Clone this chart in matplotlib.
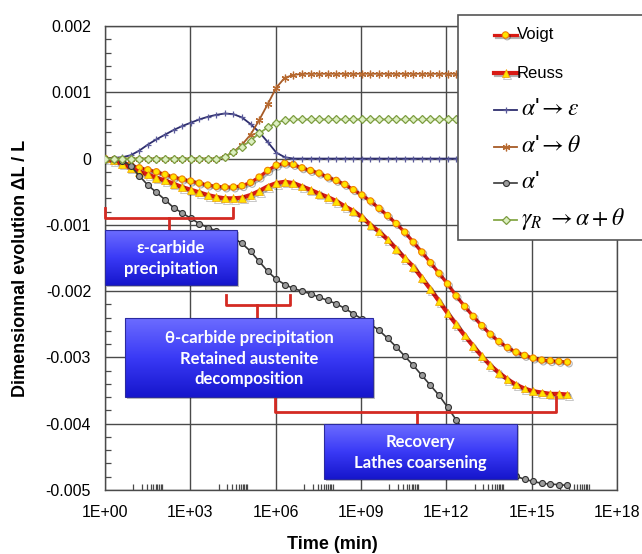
import numpy as np
import matplotlib
matplotlib.use('Agg')
import matplotlib.pyplot as plt
import matplotlib.ticker as tck
import matplotlib.patheffects as pe
from matplotlib.patches import Rectangle
from matplotlib.colors import LinearSegmentedColormap

plt.rcParams['font.family'] = ['Liberation Sans', 'DejaVu Sans']
plt.rcParams['mathtext.fontset'] = 'stix'

# time steps in minutes, doubling from 1 min (2^0 .. 2^54)
time = 2.0 ** np.arange(55)

voigt = [0, -0.00002, -0.00005, -0.0001, -0.00014, -0.00017, -0.0002, -0.00024, -0.00028, -0.00031,
         -0.00034, -0.00037, -0.0004, -0.00042, -0.00043, -0.00043, -0.00041, -0.00036, -0.00028, -0.00018,
         -0.0001, -0.00007, -0.00009, -0.00014, -0.00018, -0.00022, -0.00028, -0.00033, -0.00039, -0.00047,
         -0.00055, -0.00064, -0.00075, -0.00086, -0.00098, -0.00111, -0.00126, -0.00141, -0.00157, -0.00173,
         -0.00189, -0.00207, -0.00223, -0.00238, -0.00252, -0.00265, -0.00276, -0.00285, -0.00292, -0.00297,
         -0.00301, -0.00304, -0.00305, -0.00306, -0.00307]

reuss = [0, -0.00003, -0.00008, -0.00014, -0.0002, -0.00024, -0.00029, -0.00033, -0.00038, -0.00043,
         -0.00047, -0.00051, -0.00055, -0.00058, -0.0006, -0.0006, -0.00059, -0.00055, -0.00049, -0.00042,
         -0.00037, -0.00035, -0.00037, -0.00042, -0.00047, -0.00053, -0.00058, -0.00064, -0.00072, -0.00079,
         -0.00088, -0.001, -0.0011, -0.00122, -0.00136, -0.0015, -0.00163, -0.0018, -0.00197, -0.00215,
         -0.00233, -0.0025, -0.00267, -0.00283, -0.00298, -0.00312, -0.00323, -0.00333, -0.00341, -0.00347,
         -0.00351, -0.00353, -0.00355, -0.00355, -0.00356]

eps = [0, 0.00001, 0.00002, 0.00005, 0.00012, 0.00021, 0.00029, 0.00036, 0.00043, 0.00049,
       0.00054, 0.00059, 0.00063, 0.00066, 0.00068, 0.00067, 0.00062, 0.00052, 0.0004, 0.00025,
       0.00009, 0.00002, 0, 0, 0, 0, 0, 0, 0, 0,
       0, 0, 0, 0, 0, 0, 0, 0, 0, 0,
       0, 0, 0, 0, 0, 0, 0, 0, 0, 0,
       0, 0, 0, 0, 0]

theta = [0, 0, 0, 0, 0, 0, 0, 0, 0, 0,
         0, 0, 0, 0, 0.00003, 0.0001, 0.00021, 0.00036, 0.00058, 0.00082,
         0.00107, 0.00122, 0.00126, 0.00128, 0.00128, 0.00128, 0.00128, 0.00128, 0.00128, 0.00128,
         0.00128, 0.00128, 0.00128, 0.00128, 0.00128, 0.00128, 0.00128, 0.00128, 0.00128, 0.00128,
         0.00128, 0.00128, 0.00128, 0.00128, 0.00128, 0.00128, 0.00128, 0.00128, 0.00128, 0.00128,
         0.00128, 0.00128, 0.00128, 0.00128, 0.00128]

alpha = [0, 0, -0.00003, -0.00011, -0.00026, -0.0004, -0.00051, -0.00062, -0.00074, -0.00082,
         -0.0009, -0.00098, -0.00104, -0.00109, -0.00114, -0.0012, -0.00128, -0.0014, -0.00155, -0.0017,
         -0.00182, -0.0019, -0.00196, -0.002, -0.00204, -0.00209, -0.00214, -0.00219, -0.00226, -0.00234,
         -0.00242, -0.0025, -0.00259, -0.00271, -0.00284, -0.00298, -0.00312, -0.00327, -0.00342, -0.00357,
         -0.00375, -0.00394, -0.00412, -0.00428, -0.00442, -0.00454, -0.00464, -0.00472, -0.00479, -0.00484,
         -0.00487, -0.0049, -0.00491, -0.00492, -0.00493]

gamma = [0, 0, 0, 0, 0, 0, 0, 0, 0, 0,
         0, 0, 0, 0, 0.00003, 0.0001, 0.00018, 0.00027, 0.00038, 0.00047,
         0.00054, 0.00058, 0.00059, 0.00059, 0.00059, 0.00059, 0.00059, 0.00059, 0.00059, 0.00059,
         0.00059, 0.00059, 0.00059, 0.00059, 0.00059, 0.00059, 0.00059, 0.00059, 0.00059, 0.00059,
         0.00059, 0.00059, 0.00059, 0.00059, 0.00059, 0.00059, 0.00059, 0.00059, 0.00059, 0.00059,
         0.00059, 0.00059, 0.00059, 0.00059, 0.00059]

labels = ['Voigt', 'Reuss', r"$\alpha$'$\rightarrow\varepsilon$", r"$\alpha$'$\rightarrow\theta$",
          r"$\alpha$'", r"$\gamma_R\;\rightarrow\alpha+\theta$"]

shadow = [pe.SimpleLineShadow(offset=(1.2, -1.2), shadow_color='k', alpha=0.3), pe.Normal()]
red = '#d81a14'
styles = [
    dict(color=red, lw=2.3, marker='o', ms=4.6, mfc='#ffe400', mec='#f08000', mew=0.8, path_effects=shadow),
    dict(color=red, lw=3.0, marker='^', ms=5.6, mfc='#ffe400', mec='#f0a000', mew=0.5, path_effects=shadow),
    dict(color='#2e2e6e', lw=1.3, marker='+', ms=5, mec='#5a5a9a', mew=0.9),
    dict(color='#a65a26', lw=1.3, marker=(6, 2, 0), ms=5.5, mec='#b86a30', mew=0.9),
    dict(color='#383838', lw=1.2, marker='o', ms=4.3, mfc='#9c9c9c', mec='#303030', mew=0.8),
    dict(color='#86a848', lw=1.3, marker='D', ms=4.3, mfc='#dcefc0', mec='#7c9c40', mew=0.9),
]
series = [voigt, reuss, eps, theta, alpha, gamma]

fig = plt.figure(figsize=(6.42, 5.54), dpi=100)
ax = fig.add_axes([105 / 642, 1 - 490 / 554, 512 / 642, 464 / 554])

for yv, st in zip(series, styles):
    ax.plot(time, yv, **st, zorder=3)

ax.set_xscale('log')
ax.set_xlim(1, 1e18)
ax.set_ylim(-0.005, 0.002)
ax.xaxis.set_major_locator(tck.FixedLocator([1000.0 ** k for k in range(7)]))
ax.xaxis.set_minor_locator(tck.FixedLocator([j * 10 * 1000.0 ** m for m in range(6) for j in range(1, 11)]))
ax.xaxis.set_minor_formatter(tck.NullFormatter())
ax.xaxis.set_major_formatter(tck.FuncFormatter(lambda v, p: f"1E+{int(round(np.log10(v))):02d}"))
ax.yaxis.set_major_locator(tck.MultipleLocator(0.001))
ax.yaxis.set_minor_locator(tck.MultipleLocator(0.0002))
ax.yaxis.set_minor_formatter(tck.NullFormatter())
ax.yaxis.set_major_formatter(tck.FuncFormatter(lambda v, p: '0' if abs(v) < 1e-9 else f"{round(v, 3):g}"))

ax.grid(True, which='major', color='#4a4a4a', lw=1.0)
ax.set_axisbelow(True)
for s in ax.spines.values():
    s.set_color('#4a4a4a')
    s.set_linewidth(1.0)
ax.tick_params(axis='both', which='major', direction='in', length=0, labelsize=11.5, colors='#4a4a4a',
               labelcolor='black')
ax.tick_params(axis='y', which='major', pad=10)
ax.tick_params(axis='x', which='major', pad=11)
ax.tick_params(axis='both', which='minor', direction='in', length=4.5, width=0.9, colors='#4a4a4a')

ax.set_xlabel('Time (min)', fontsize=13, fontweight='bold', va='center')
ax.set_ylabel('Dimensionnal evolution ΔL / L', fontsize=13, fontweight='bold', va='center', ha='center')
ax.xaxis.set_label_coords(0.445, -0.1185)
ax.yaxis.set_label_coords(-0.166, 0.478)

# overlay in pixel coordinates for annotations and legend
ov = fig.add_axes([0, 0, 1, 1], zorder=5)
ov.axis('off')

bracket_red = '#d42a22'
brackets = [
    [(105, 208), (105, 217.5), (233, 217.5), (233, 208)],
    [(226, 295), (226, 305), (290, 305), (290, 295)],
    [(275, 397), (275, 412), (556, 412), (556, 397)],
]
ticks = [(169, 217.5, 229), (257, 305, 318), (417, 412, 424)]
for pts in brackets:
    xs, ys = zip(*pts)
    ov.plot(xs, ys, color=bracket_red, lw=2.0, solid_joinstyle='round')
for x, y0, y1 in ticks:
    ov.plot([x, x], [y0, y1], color=bracket_red, lw=2.0)

box_cmap = LinearSegmentedColormap.from_list('box', ['#6c6cff', '#3a3af6', '#1616cc'])
grad = np.linspace(0, 1, 128).reshape(-1, 1)
boxes = [
    ((105, 230, 237, 285), "ε-carbide\nprecipitation"),
    ((125, 318, 373, 397), "θ-carbide precipitation\nRetained austenite\ndecomposition"),
    ((324, 424, 517, 479), "Recovery\nLathes coarsening"),
]
for (x0, y0, x1, y1), txt in boxes:
    ov.add_patch(Rectangle((x0 + 2, y0 + 2), x1 - x0, y1 - y0, color='k', alpha=0.25, lw=0, zorder=1))
    ov.imshow(grad, extent=(x0, x1, y1, y0), cmap=box_cmap, aspect='auto', interpolation='bilinear',
              origin='upper', zorder=2)
    ov.add_patch(Rectangle((x0, y0), x1 - x0, y1 - y0, fill=False, ec='#2a2aa0', lw=0.8, zorder=3))
    ov.text((x0 + x1) / 2, (y0 + y1) / 2 + 1, txt, color='white', fontweight='bold', fontsize=12,
            family=['Lato', 'DejaVu Sans'], ha='center', va='center', linespacing=1.32, zorder=4)
ov.set_xlim(0, 642)
ov.set_ylim(554, 0)

# legend panel
ov.add_patch(Rectangle((458, 15), 200, 225, fc='white', ec='#555555', lw=1.2, clip_on=False))
rows = [35, 73, 110, 147, 183, 220]
sizes = [12, 12, 17, 17, 17, 17]
for yy, st, lab, fs in zip(rows, styles, labels, sizes):
    ov.plot([494, 505.5, 517], [yy, yy, yy], markevery=[1], **st)
    ov.text(517 if fs == 12 else 521, yy + (0 if fs == 12 else -1), lab, fontsize=fs, va='center', ha='left')

fig.savefig('out.png', dpi=100)
